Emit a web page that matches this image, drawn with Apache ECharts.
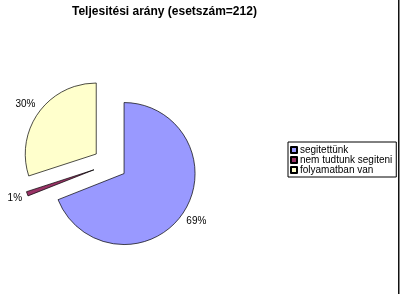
<!DOCTYPE html>
<html><head><meta charset="utf-8">
<script src="https://cdn.jsdelivr.net/npm/echarts@6/dist/echarts.min.js"></script>
<style>html,body{margin:0;padding:0;background:#fff}#c{width:400px;height:294px}</style>
</head><body><div id="c"></div>
<script>
const categories = ['segitettünk', 'nem tudtunk segiteni', 'folyamatban van'];
const values = [69, 1, 30];
const labels = ['69%', '1%', '30%'];
const colors = ['#9999FF', '#993366', '#FFFFCC'];

const chart = echarts.init(document.getElementById('c'), null, {renderer: 'canvas'});
chart.setOption({
  animation: false,
  backgroundColor: '#fff',
  title: {
    text: 'Teljesitési arány (esetszám=212)',
    left: 72, top: 6, padding: 0,
    textStyle: {fontFamily: 'Liberation Sans, Arial', fontSize: 12, fontWeight: 'bold', color: '#000'}
  },
  legend: {
    orient: 'vertical',
    left: 288, top: 142,
    padding: [3, 4, 2, 2],
    itemGap: 0,
    itemWidth: 6, itemHeight: 6,
    icon: 'rect',
    borderColor: '#000', borderWidth: 1,
    selectedMode: false,
    textStyle: {fontFamily: 'Liberation Sans, Arial', fontSize: 10, lineHeight: 9, color: '#000', padding: [0, 0, 0, -2]},
    data: categories
  },
  graphic: [{type: 'rect', shape: {x: 398, y: 0, width: 1.5, height: 294}, style: {fill: '#111'}}],
  series: [{
    type: 'pie',
    center: [110, 164],
    radius: 71,
    startAngle: 90,
    clockwise: true,
    selectedMode: 'multiple',
    selectedOffset: 17,
    avoidLabelOverlap: false,
    emphasis: {scale: false, disabled: true},
    itemStyle: {borderColor: '#000', borderWidth: 0.7},
    label: {
      position: 'outside',
      fontFamily: 'Liberation Sans, Arial', fontSize: 10, color: '#000',
      distanceToLabelLine: -8,
      formatter: p => labels[p.dataIndex]
    },
    labelLine: {show: false, length: 14, length2: 0},
    data: categories.map((n, i) => ({name: n, value: values[i], selected: true, itemStyle: {color: colors[i]}}))
  }]
});
</script></body></html>
